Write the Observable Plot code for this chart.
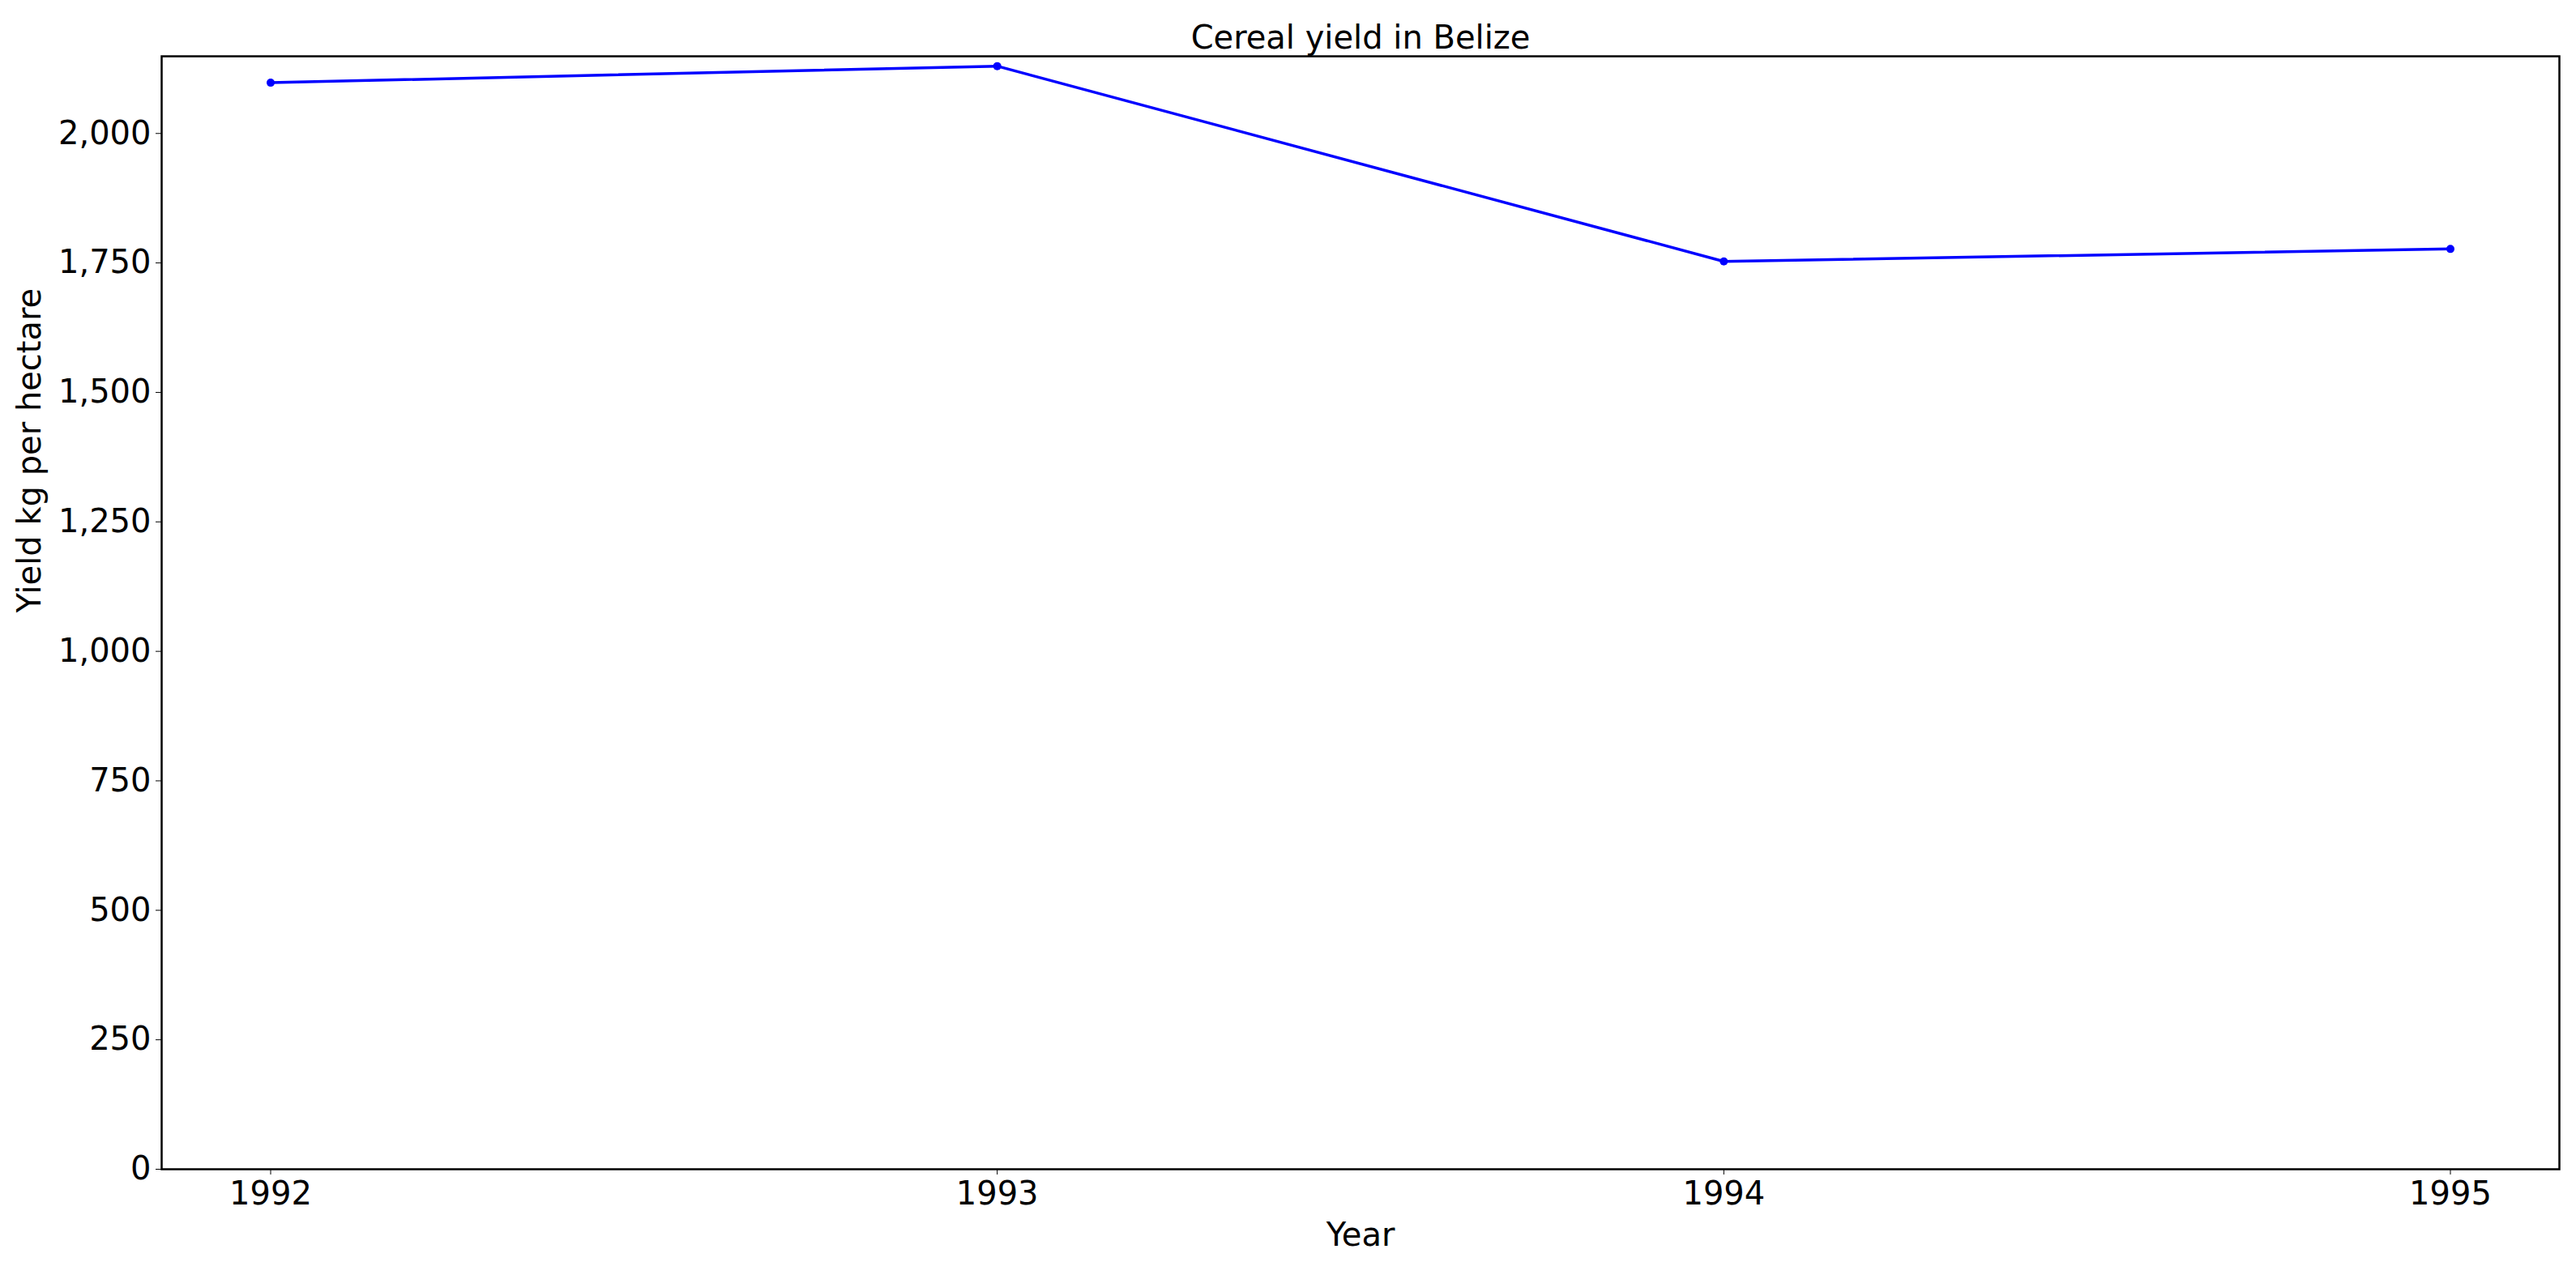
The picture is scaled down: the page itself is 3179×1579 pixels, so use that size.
<!DOCTYPE html>
<html>
<head>
<meta charset="utf-8">
<script src="https://cdn.jsdelivr.net/npm/d3@7"></script>
<script src="https://cdn.jsdelivr.net/npm/@observablehq/plot@0.6"></script>
<style>
  body { margin: 0; background: white; }
</style>
</head>
<body>
<div id="chart"></div>
<script>
const years = [1992, 1993, 1994, 1995];
const yieldKg = [2098, 2130, 1753, 1777];
const yTicks = [0, 250, 500, 750, 1000, 1250, 1500, 1750, 2000];

const data = years.map((y, i) => ({year: y, value: yieldKg[i]}));

const chart = Plot.plot({
  width: 3179,
  height: 1579,
  marginTop: 69,
  marginBottom: 136,
  marginLeft: 199,
  marginRight: 21,
  style: {fontFamily: "DejaVu Sans", fontSize: "40px", color: "black", background: "white"},
  x: {domain: [1991.85, 1995.15], ticks: years, tickFormat: d => String(d), label: null, tickSize: 7, tickPadding: 8},
  y: {domain: [0, 2149], ticks: yTicks, label: null, tickSize: 7, tickPadding: 6},
  marks: [
    Plot.axisX({ticks: years, tickFormat: d => String(d), tickSize: 7, tickPadding: 8, label: null, fontSize: 40}),
    Plot.axisY({ticks: yTicks, tickSize: 7, tickPadding: 6, label: null, fontSize: 40}),
    Plot.line(data, {x: "year", y: "value", stroke: "blue", strokeWidth: 3.5}),
    Plot.dot(data, {x: "year", y: "value", fill: "blue", r: 5}),
    Plot.frame({stroke: "black", strokeWidth: 2.5}),
    Plot.text(["Cereal yield in Belize"], {frameAnchor: "top", dy: -38, fontSize: 40, fill: "black"}),
    Plot.text(["Year"], {frameAnchor: "bottom", dy: 94, fontSize: 40, fill: "black"}),
    Plot.text(["Yield kg per hectare"], {frameAnchor: "left", dx: -162, rotate: -90, fontSize: 40, fill: "black"})
  ]
});

d3.select("#chart").append(() => chart);
</script>
</body>
</html>
